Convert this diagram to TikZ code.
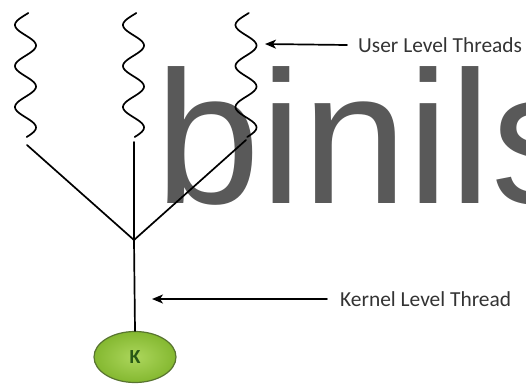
\documentclass[tikz,border=0pt]{standalone}
\usepackage{fontspec}
\setmainfont{Carlito}
\newfontfamily\wmfont{Liberation Sans}
\usetikzlibrary{shapes.geometric,arrows.meta}
\definecolor{wmgray}{RGB}{89,89,89}
\definecolor{kin}{RGB}{172,214,92}
\definecolor{kout}{RGB}{132,184,48}
\definecolor{kedge}{RGB}{88,116,48}
\definecolor{kgreen}{RGB}{40,88,22}

\begin{document}
\begin{tikzpicture}[x=1pt,y=-1pt,>={Stealth[length=11pt,width=9pt,inset=3pt]},line cap=round,
		thread/.style={line width=1.7pt},
		pointer/.style={line width=1.7pt,->},
		lbl/.style={anchor=west,inner sep=0pt,text=black!80,font=\fontsize{21.4}{24}\selectfont}]
		\useasboundingbox (0,0) rectangle (526,383);
		% watermark
		\node[anchor=base west,inner sep=0pt,text=wmgray,
			font=\wmfont\fontsize{189}{189}\selectfont] (wm) at (155.5,203) {binils};
		%\draw[red] (0,0) rectangle (526,383);
		\foreach \X [count=\Y] in {25.5,133.5,246}
		{\draw[thread] plot[domain=13:137,samples=90,smooth] ({\X-10.5*cos(8.78*(\x-25))},\x);}
		\coordinate (b1) at (27,145);
		\coordinate (b2) at (134,142);
		\coordinate (b3) at (246,140);
		\coordinate (j) at (134,240);
		\coordinate (p3) at (265,44);
		\coordinate (kp) at (152,299);
		\node[ellipse,draw=kedge,line width=1.2pt,inner color=kin,outer color=kout,
			minimum width=82pt,minimum height=51pt,inner sep=0pt,text=kgreen,
			font=\fontsize{20}{20}\selectfont\bfseries] (k) at (135,357) {K};
		\foreach \Y in {1,2,3}
		{\draw[thread] (b\Y) -- (j);}
		\draw[thread] (j) -- (k.north);
		\node[lbl] (ult) at (358,45) {User Level Threads};
		\node[lbl] (klt) at (340,299) {Kernel Level Thread};
		\draw[pointer] ([xshift=-11pt]ult.west) -- (p3);
		\draw[pointer] ([xshift=-13pt]klt.west) -- (kp);
\end{tikzpicture}
\end{document}
